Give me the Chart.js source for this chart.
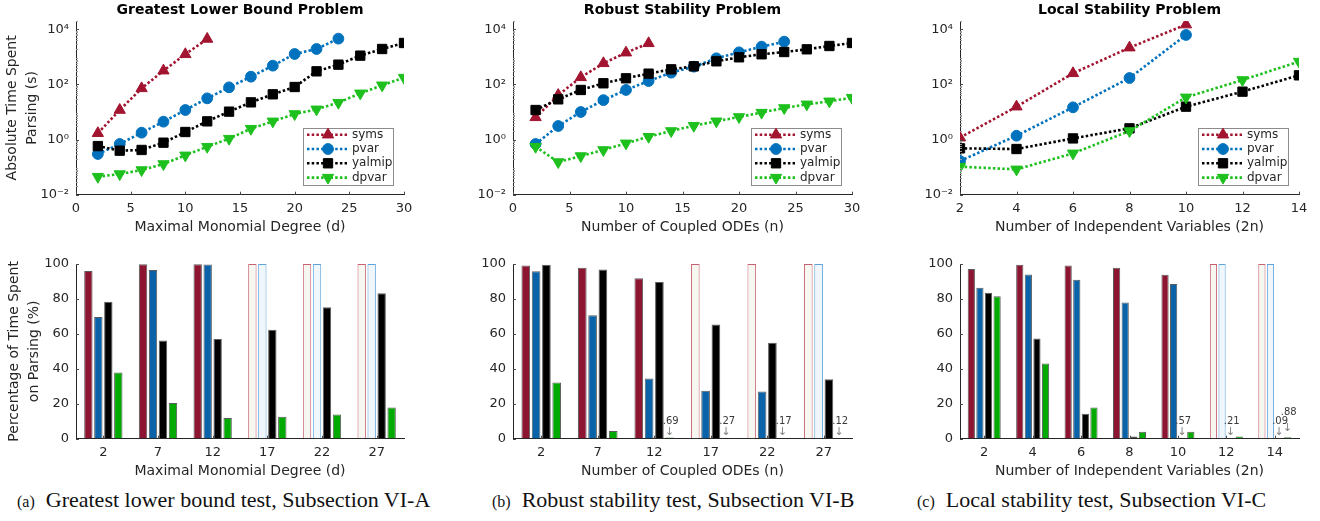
<!DOCTYPE html>
<html>
<head>
<meta charset="utf-8">
<script src="https://cdn.jsdelivr.net/npm/chart.js@4.4.0/dist/chart.umd.min.js"></script>
<style>
body { margin:0; background:#fff; width:1320px; height:521px; position:relative; overflow:hidden; }
.box { position:absolute; }
.cap { position:absolute; top:489px; line-height:22px; font-family:"Liberation Serif", serif; font-size:22px; color:#111; white-space:nowrap; }
.cap span { font-size:16px; margin-right:11px; }
</style>
</head>
<body>
<div class="box" style="left:0;top:0;width:440px;height:236px"><canvas id="topA"></canvas></div>
<div class="box" style="left:440px;top:0;width:440px;height:236px"><canvas id="topB"></canvas></div>
<div class="box" style="left:880px;top:0;width:440px;height:236px"><canvas id="topC"></canvas></div>
<div class="box" style="left:0;top:245px;width:440px;height:235px"><canvas id="botA"></canvas></div>
<div class="box" style="left:440px;top:245px;width:440px;height:235px"><canvas id="botB"></canvas></div>
<div class="box" style="left:880px;top:245px;width:440px;height:235px"><canvas id="botC"></canvas></div>
<div class="cap" style="left:17px"><span>(a)</span>Greatest lower bound test, Subsection VI-A</div>
<div class="cap" style="left:492px"><span>(b)</span>Robust stability test, Subsection VI-B</div>
<div class="cap" style="left:917px"><span>(c)</span>Local stability test, Subsection VI-C</div>
<script>
// ---- data ----
var methods = ['syms', 'pvar', 'yalmip', 'dpvar'];
var logTicks = [0.01, 1, 100, 10000];

// greatest lower bound: time (s) vs degree d
var glbDeg = [2, 4, 6, 8, 10, 12, 14, 16, 18, 20, 22, 24, 26, 28, 30];
var glbSyms = [1.7, 11.8, 72, 316, 1240, 4460];
var glbPvar = [0.30, 0.69, 1.78, 4.46, 11.8, 31.3, 78.5, 191, 480, 1270, 1930, 4580];
var glbYalmip = [0.58, 0.395, 0.42, 0.77, 1.88, 4.58, 10.3, 22.4, 43.8, 80.7, 299, 522, 1107, 1930, 3190];
var glbDpvar = [0.045, 0.056, 0.0785, 0.13, 0.268, 0.55, 1.08, 2.48, 4.58, 8.47, 12.5, 21.8, 47.6, 93, 176];

// robust stability: time (s) vs number of ODEs n
var rsN = [2, 4, 6, 8, 10, 12, 14, 16, 18, 20, 22, 24, 26, 28, 30];
var rsSyms = [6.4, 41, 181, 583, 1420, 3100];
var rsPvar = [0.69, 3.1, 10, 27, 63, 133, 267, 441, 887, 1463, 2350, 3560];
var rsYalmip = [11.8, 28.8, 63, 110, 167, 246, 353, 454, 690, 964, 1240, 1500, 1880, 2480, 3190];
var rsDpvar = [0.55, 0.153, 0.253, 0.42, 0.73, 1.27, 2.05, 3.19, 4.6, 6.6, 9.5, 14, 19, 24.4, 33];

// local stability: time (s) vs independent variables 2n
var lsVars = [2, 4, 6, 8, 10, 12, 14];
var lsSyms = [1.17, 15.6, 253, 2160, 14800];
var lsPvar = [0.167, 1.38, 14.8, 171, 6230];
var lsYalmip = [0.48, 0.454, 1.1, 2.55, 15.6, 54.7, 214];
var lsDpvar = [0.104, 0.083, 0.316, 2.04, 34, 145, 672];

// percentage of time spent parsing (null = not run, drawn as empty bar)
var glbCats = ['2', '7', '12', '17', '22', '27'];
var glbPctSyms = [96, 99.8, 99.9, null, null, null];
var glbPctPvar = [69.6, 96.6, 99.7, null, null, null];
var glbPctYalmip = [78.4, 56.2, 57, 62.3, 75.3, 83.2];
var glbPctDpvar = [37.9, 20.5, 11.9, 12.6, 13.8, 17.8];

var rsCats = ['2', '7', '12', '17', '22', '27'];
var rsPctSyms = [99.2, 97.9, 91.8, null, null, null];
var rsPctPvar = [95.8, 70.6, 34.4, 27.5, 27, null];
var rsPctYalmip = [99.6, 96.9, 89.7, 65.4, 54.9, 34];
var rsPctDpvar = [32.1, 4.4, 0.69, 0.27, 0.17, 0.12];

var lsCats = ['2', '4', '6', '8', '10', '12', '14'];
var lsPctSyms = [97.1, 99.6, 99.2, 97.9, 93.9, null, null];
var lsPctPvar = [86.4, 94, 91, 78, 88.5, null, null];
var lsPctYalmip = [83.6, 57.4, 14.3, 1.2, 0.57, 0.21, 0.09];
var lsPctDpvar = [81.6, 43, 17.8, 4, 4, 1.3, 0.88];

// ---- styling ----
Chart.defaults.font.family = '"DejaVu Sans", sans-serif';
Chart.defaults.color = '#262626';
Chart.defaults.animation = false;

var lineCol = ['#a2142f', '#0072bd', '#000000', '#1ec01e'];
var barCol = ['#8d1531', '#0a63a8', '#000000', '#00aa00'];
var emptyEdge = ['#c8606f', '#5ea3da'];
var emptyFill = ['#f6f7f1', '#eff6fc'];
var marker = [
  { style: 'triangle', rot: 0, r: 6.5 },
  { style: 'circle', rot: 0, r: 5.4 },
  { style: 'rect', rot: 0, r: 6.6 },
  { style: 'triangle', rot: 180, r: 6.5 }
];
var sup = { '-': '\u207B', '0': '\u2070', '1': '\u00B9', '2': '\u00B2', '3': '\u00B3', '4': '\u2074' };

function pts(xs, ys) {
  return ys.map(function (v, i) { return { x: xs[i], y: v }; });
}

// bold panel title centred over the plot area
var panelTitle = {
  id: 'panelTitle',
  afterDraw: function (chart, args, o) {
    if (!o.text) return;
    var ctx = chart.ctx, a = chart.chartArea;
    ctx.save();
    ctx.fillStyle = '#000';
    ctx.font = 'bold 14px "DejaVu Sans"';
    ctx.textAlign = 'center';
    ctx.textBaseline = 'middle';
    ctx.fillText(o.text, (a.left + a.right) / 2, 10.5);
    ctx.restore();
  }
};

// small inward tick marks like MATLAB axes
var inTicks = {
  id: 'inTicks',
  afterDatasetsDraw: function (chart) {
    var ctx = chart.ctx, a = chart.chartArea, xs = chart.scales.x, ys = chart.scales.y;
    ctx.save();
    ctx.strokeStyle = '#4a4a4a';
    ctx.lineWidth = 1;
    ctx.beginPath();
    xs.ticks.forEach(function (t, i) {
      var px = Math.round(xs.getPixelForTick(i)) + 0.5;
      ctx.moveTo(px, a.bottom); ctx.lineTo(px, a.bottom - 3);
    });
    ys.ticks.forEach(function (t, i) {
      var py = Math.round(ys.getPixelForTick(i)) + 0.5;
      ctx.moveTo(a.left, py); ctx.lineTo(a.left + 3, py);
    });
    ctx.stroke();
    if (ys.type === 'logarithmic') {
      ctx.strokeStyle = '#9a9a9a';
      ctx.beginPath();
      for (var e = -2; e <= 4; e++) {
        for (var m = 2; m <= 9; m++) {
          var v = m * Math.pow(10, e);
          if (v > ys.max) break;
          var py = Math.round(ys.getPixelForValue(v)) + 0.5;
          ctx.moveTo(a.left, py); ctx.lineTo(a.left + 2, py);
        }
      }
      ctx.stroke();
    }
    ctx.restore();
  }
};

// boxed legend inside the lower right corner of the plot
var boxLegend = {
  id: 'boxLegend',
  afterDraw: function (chart) {
    var ctx = chart.ctx, a = chart.chartArea;
    var w = 90, h = 57, x0 = a.right - 11 - w, y0 = a.bottom - 10 - h;
    ctx.save();
    ctx.fillStyle = '#fff';
    ctx.fillRect(x0, y0, w, h);
    ctx.strokeStyle = '#8c8c8c';
    ctx.lineWidth = 1;
    ctx.strokeRect(Math.round(x0) + 0.5, Math.round(y0) + 0.5, w, h);
    chart.data.datasets.forEach(function (ds, i) {
      var cy = y0 + 7 + i * 14.3;
      ctx.strokeStyle = ds.borderColor;
      ctx.lineWidth = ds.borderWidth;
      ctx.setLineDash(ds.borderDash);
      ctx.beginPath(); ctx.moveTo(x0 + 4, cy); ctx.lineTo(x0 + 44, cy); ctx.stroke();
      ctx.setLineDash([]);
      ctx.fillStyle = ds.pointBackgroundColor;
      ctx.strokeStyle = ds.pointBorderColor;
      ctx.lineWidth = 1;
      Chart.helpers.drawPoint(ctx, { pointStyle: ds.pointStyle, rotation: ds.pointRotation, radius: ds.pointRadius, borderWidth: 1 }, x0 + 25, cy);
      ctx.fillStyle = '#262626';
      ctx.font = '12px "DejaVu Sans"';
      ctx.textBaseline = 'middle';
      ctx.textAlign = 'left';
      ctx.fillText(ds.label, x0 + 49, cy);
    });
    ctx.restore();
  }
};

// labels for bars too short to see (value below 1 %)
var tinyLabels = {
  id: 'tinyLabels',
  afterDatasetsDraw: function (chart) {
    var ctx = chart.ctx, base = chart.chartArea.bottom, used = {};
    ctx.save();
    ctx.textAlign = 'center';
    ctx.textBaseline = 'middle';
    chart.data.datasets.forEach(function (ds, di) {
      chart.getDatasetMeta(di).data.forEach(function (bar, i) {
        var v = ds.raw[i];
        if (v == null || v >= 1) return;
        var lift = used[i] ? 9 : 0;
        used[i] = true;
        ctx.fillStyle = '#3a3a3a';
        ctx.font = '10px "DejaVu Sans"';
        ctx.fillText(v.toFixed(2).replace(/^0/, ''), bar.x + 1, base - 17 - lift);
        ctx.fillStyle = '#808080';
        ctx.font = '11px "DejaVu Sans"';
        ctx.fillText('\u2193', bar.x, base - 6.5 - lift * 0.5);
      });
    });
    ctx.restore();
  }
};

function axisFit(yWidth, xHeight) {
  return {
    x: function (s) { s.height = xHeight; s.paddingLeft = 0; s.paddingRight = 0; },
    y: function (s) { s.width = yWidth; s.paddingTop = 0; s.paddingBottom = 0; }
  };
}

function lineChart(id, opt) {
  var fit = axisFit(opt.yWidth, 41.3);
  var datasets = opt.series.map(function (ys, i) {
    return {
      label: methods[i],
      data: pts(opt.xs, ys),
      borderColor: lineCol[i],
      backgroundColor: lineCol[i],
      pointBackgroundColor: lineCol[i],
      pointBorderColor: lineCol[i],
      borderWidth: 2.6,
      borderDash: [2.5, 2.2],
      pointStyle: marker[i].style,
      pointRotation: marker[i].rot,
      pointRadius: marker[i].r,
      pointBorderWidth: 1,
      tension: 0,
      order: 3 - i
    };
  });
  new Chart(document.getElementById(id), {
    type: 'line',
    data: { datasets: datasets },
    options: {
      responsive: true,
      maintainAspectRatio: false,
      layout: { padding: { left: 0, right: opt.padRight, top: 21, bottom: 0 } },
      plugins: {
        legend: { display: false },
        tooltip: { enabled: false },
        title: { display: false },
        panelTitle: { text: opt.title }
      },
      scales: {
        x: {
          type: 'linear', min: opt.xMin, max: opt.xMax,
          ticks: { stepSize: opt.step, padding: 6, font: { size: 13 } },
          grid: { drawOnChartArea: false, drawTicks: false },
          border: { color: '#262626' },
          title: { display: true, text: opt.xTitle, font: { size: 14 }, padding: 0 },
          afterFit: fit.x
        },
        y: {
          type: 'logarithmic', min: 0.01, max: 20000,
          afterBuildTicks: function (s) { s.ticks = logTicks.map(function (v) { return { value: v }; }); },
          ticks: {
            padding: 7, font: { size: 13 },
            callback: function (v) {
              return '10' + String(Math.round(Math.log10(v))).split('').map(function (c) { return sup[c]; }).join('');
            }
          },
          grid: { drawOnChartArea: false, drawTicks: false },
          border: { color: '#262626' },
          title: {
            display: !!opt.yTitle, text: opt.yTitle,
            font: { size: 14, lineHeight: 1.4 }, padding: { top: 3, bottom: 0 }
          },
          afterFit: fit.y
        }
      }
    },
    plugins: [inTicks, boxLegend, panelTitle]
  });
}

function barChart(id, opt) {
  var fit = axisFit(opt.yWidth, 41.3);
  var datasets = opt.series.map(function (vals, i) {
    return {
      label: methods[i],
      raw: vals,
      data: vals.map(function (v) { return v == null ? 100 : v; }),
      backgroundColor: vals.map(function (v) { return v == null ? emptyFill[i] : barCol[i]; }),
      borderColor: vals.map(function (v) { return v == null ? emptyEdge[i] : '#5c5c5c'; }),
      borderWidth: 1,
      categoryPercentage: opt.catPct,
      barPercentage: 0.84
    };
  });
  new Chart(document.getElementById(id), {
    type: 'bar',
    data: { labels: opt.cats, datasets: datasets },
    options: {
      responsive: true,
      maintainAspectRatio: false,
      layout: { padding: { left: 0, right: opt.padRight, top: 19, bottom: 0 } },
      plugins: { legend: { display: false }, tooltip: { enabled: false } },
      scales: {
        x: {
          ticks: { padding: 6, font: { size: 13 } },
          grid: { drawOnChartArea: false, drawTicks: false },
          border: { color: '#262626' },
          title: { display: true, text: opt.xTitle, font: { size: 14 }, padding: 0 },
          afterFit: fit.x
        },
        y: {
          min: 0, max: 100,
          ticks: { stepSize: 20, padding: 7, font: { size: 13 } },
          grid: { drawOnChartArea: false, drawTicks: false },
          border: { color: '#262626' },
          title: {
            display: !!opt.yTitle, text: opt.yTitle,
            font: { size: 14, lineHeight: 1.4 }, padding: { top: 5, bottom: 0 }
          },
          afterFit: fit.y
        }
      }
    },
    plugins: [inTicks, tinyLabels]
  });
}

lineChart('topA', {
  title: 'Greatest Lower Bound Problem', xTitle: 'Maximal Monomial Degree (d)',
  yTitle: ['Absolute Time Spent', 'Parsing (s)'],
  xs: glbDeg, series: [glbSyms, glbPvar, glbYalmip, glbDpvar],
  xMin: 0, xMax: 30, step: 5, yWidth: 76, padRight: 36
});
lineChart('topB', {
  title: 'Robust Stability Problem', xTitle: 'Number of Coupled ODEs (n)',
  xs: rsN, series: [rsSyms, rsPvar, rsYalmip, rsDpvar],
  xMin: 0, xMax: 30, step: 5, yWidth: 73, padRight: 28
});
lineChart('topC', {
  title: 'Local Stability Problem', xTitle: 'Number of Independent Variables (2n)',
  xs: lsVars, series: [lsSyms, lsPvar, lsYalmip, lsDpvar],
  xMin: 2, xMax: 14, step: 2, yWidth: 80, padRight: 21
});

barChart('botA', {
  xTitle: 'Maximal Monomial Degree (d)', yTitle: ['Percentage of Time Spent', 'on Parsing (%)'],
  cats: glbCats, series: [glbPctSyms, glbPctPvar, glbPctYalmip, glbPctDpvar],
  yWidth: 76, padRight: 36, catPct: 0.73
});
barChart('botB', {
  xTitle: 'Number of Coupled ODEs (n)',
  cats: rsCats, series: [rsPctSyms, rsPctPvar, rsPctYalmip, rsPctDpvar],
  yWidth: 73, padRight: 28, catPct: 0.73
});
barChart('botC', {
  xTitle: 'Number of Independent Variables (2n)',
  cats: lsCats, series: [lsPctSyms, lsPctPvar, lsPctYalmip, lsPctDpvar],
  yWidth: 80, padRight: 21, catPct: 0.71
});
</script>
</body>
</html>
